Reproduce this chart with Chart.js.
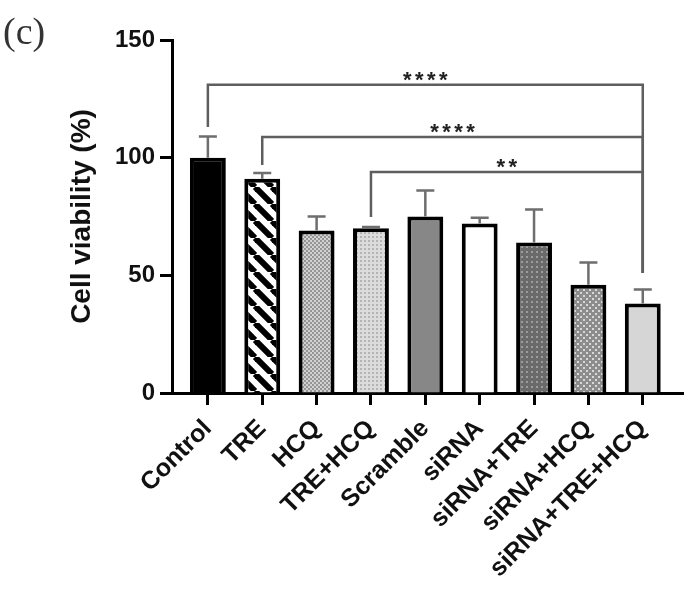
<!DOCTYPE html>
<html lang="en">
<head>
  <title>Cell viability</title>
  <meta charset="utf-8">
  <script src="https://cdn.jsdelivr.net/npm/chart.js@4.4.1/dist/chart.umd.min.js"></script>
  <style>
    html, body { margin: 0; padding: 0; background: #fff; }
    #wrap { width: 694px; height: 597px; }
  </style>
</head>
<body>
<div id="wrap"><canvas id="viability"></canvas></div>

<script>
  const groups = ["Control", "TRE", "HCQ", "TRE+HCQ", "Scramble", "siRNA", "siRNA+TRE", "siRNA+HCQ", "siRNA+TRE+HCQ"]
  const means = [100, 91, 69, 70, 75, 72, 64, 46, 38]
  const errTop = [109, 93.5, 75, 70.5, 86, 74.5, 78, 55.5, 44]
  const yTicks = [0, 50, 100, 150]

  // significance brackets
  const compFrom = [0, 1, 3]
  const compTo = [8, 8, 8]
  const compLevel = [131, 108.8, 93.9]
  const compLegEnd = [113, 96.9, 74.8]
  const compRightEnd = 51
  const compStars = ["****", "****", "**"]

  function makePattern(bg, size, draw) {
    const c = document.createElement("canvas")
    c.width = size; c.height = size
    const g = c.getContext("2d")
    g.fillStyle = bg
    g.fillRect(0, 0, size, size)
    draw(g, size)
    return g.createPattern(c, "repeat")
  }

  const stripes = makePattern("#ffffff", 17, (g, s) => {
    g.strokeStyle = "#000"
    g.lineWidth = 6
    for (let k = -s; k <= s; k += s) {
      g.beginPath(); g.moveTo(k, 0); g.lineTo(k + s, s); g.stroke()
    }
  })
  const fineCheck = makePattern("#d2d2d2", 4, (g) => {
    g.fillStyle = "#959595"
    g.fillRect(0, 0, 2, 2); g.fillRect(2, 2, 2, 2)
  })
  const lightDots = makePattern("#dcdcdc", 4, (g) => {
    g.fillStyle = "#b4b4b4"
    g.fillRect(0, 0, 2, 2)
  })
  const darkDots = makePattern("#6a6a6a", 5, (g) => {
    g.fillStyle = "#9c9c9c"
    g.fillRect(1, 1, 2, 2)
  })
  const greyCheck = makePattern("#8c8c8c", 6, (g) => {
    g.fillStyle = "#d8d8d8"
    g.fillRect(1, 1, 2, 2); g.fillRect(4, 4, 2, 2)
  })

  const fills = ["#000000", stripes, fineCheck, lightDots, "#878787", "#ffffff", darkDots, greyCheck, "#d6d6d6"]

  const annotate = {
    id: "annotate",
    afterDatasetsDraw(chart) {
      const {ctx, scales: {x, y}} = chart
      ctx.save()
      ctx.strokeStyle = "#6e6e6e"
      ctx.lineWidth = 2.5
      means.forEach((m, i) => {
        const px = x.getPixelForValue(i)
        const y0 = y.getPixelForValue(m)
        const y1 = y.getPixelForValue(errTop[i])
        ctx.beginPath()
        ctx.moveTo(px, y0); ctx.lineTo(px, y1)
        ctx.moveTo(px - 9, y1); ctx.lineTo(px + 9, y1)
        ctx.stroke()
      })

      ctx.strokeStyle = "#5e5e5e"
      ctx.fillStyle = "#222"
      ctx.font = "bold 22px 'Liberation Sans'"
      ctx.textAlign = "center"
      ctx.textBaseline = "alphabetic"
      for (let i = 0; i < compFrom.length; i++) {
        const x0 = x.getPixelForValue(compFrom[i])
        const x1 = x.getPixelForValue(compTo[i])
        const yl = y.getPixelForValue(compLevel[i])
        ctx.beginPath()
        ctx.moveTo(x0, y.getPixelForValue(compLegEnd[i]))
        ctx.lineTo(x0, yl)
        ctx.lineTo(x1, yl)
        ctx.lineTo(x1, y.getPixelForValue(compRightEnd))
        ctx.stroke()
        const n = compStars[i].length
        const mid = (x0 + x1) / 2
        for (let k = 0; k < n; k++) {
          ctx.fillText("*", mid + (k - (n - 1) / 2) * 12, yl + 2)
        }
      }

      ctx.fillStyle = "#333"
      ctx.textAlign = "left"
      ctx.font = "38px 'Liberation Serif'"
      ctx.fillText("(c)", 3, 44)
      ctx.restore()
    }
  }

  new Chart("viability", {
    type: "bar",
    data: {
      datasets: [{
        data: means.map((v, i) => ({x: i, y: v})),
        backgroundColor: fills,
        borderColor: "#000",
        borderWidth: 4,
        borderSkipped: "start",
        barPercentage: 0.66,
        categoryPercentage: 1
      }]
    },
    options: {
      responsive: true,
      maintainAspectRatio: false,
      animation: false,
      layout: {padding: {top: 40, right: 11, left: 0, bottom: 0}},
      plugins: {legend: {display: false}, tooltip: {enabled: false}},
      scales: {
        x: {
          type: "linear",
          offset: false,
          min: -0.66,
          max: 8.74,
          afterBuildTicks: s => { s.ticks = groups.map((g, i) => ({value: i})) },
          afterFit: s => { s.height = 204; s.paddingLeft = 0; s.paddingRight = 0 },
          border: {color: "#000", width: 3},
          grid: {offset: false, drawOnChartArea: false, color: "#000", tickLength: 12, tickWidth: 3},
          ticks: {
            autoSkip: false,
            minRotation: 45,
            maxRotation: 45,
            color: "#111",
            padding: 9,
            font: {family: "Liberation Sans", size: 25, weight: "bold"},
            callback: v => groups[v]
          }
        },
        y: {
          min: 0,
          max: 150,
          afterBuildTicks: s => { s.ticks = yTicks.map(v => ({value: v})) },
          afterFit: s => { s.width = 172 },
          border: {color: "#000", width: 3},
          grid: {drawOnChartArea: false, color: "#000", tickLength: 12, tickWidth: 3},
          ticks: {
            color: "#111",
            padding: 5,
            font: {family: "Liberation Sans", size: 24, weight: "bold"}
          },
          title: {
            display: true,
            text: "Cell viability (%)",
            color: "#111",
            padding: {top: 65, bottom: 0},
            font: {family: "Liberation Sans", size: 28, weight: "bold"}
          }
        }
      }
    },
    plugins: [annotate]
  })
</script>
</body>
</html>
